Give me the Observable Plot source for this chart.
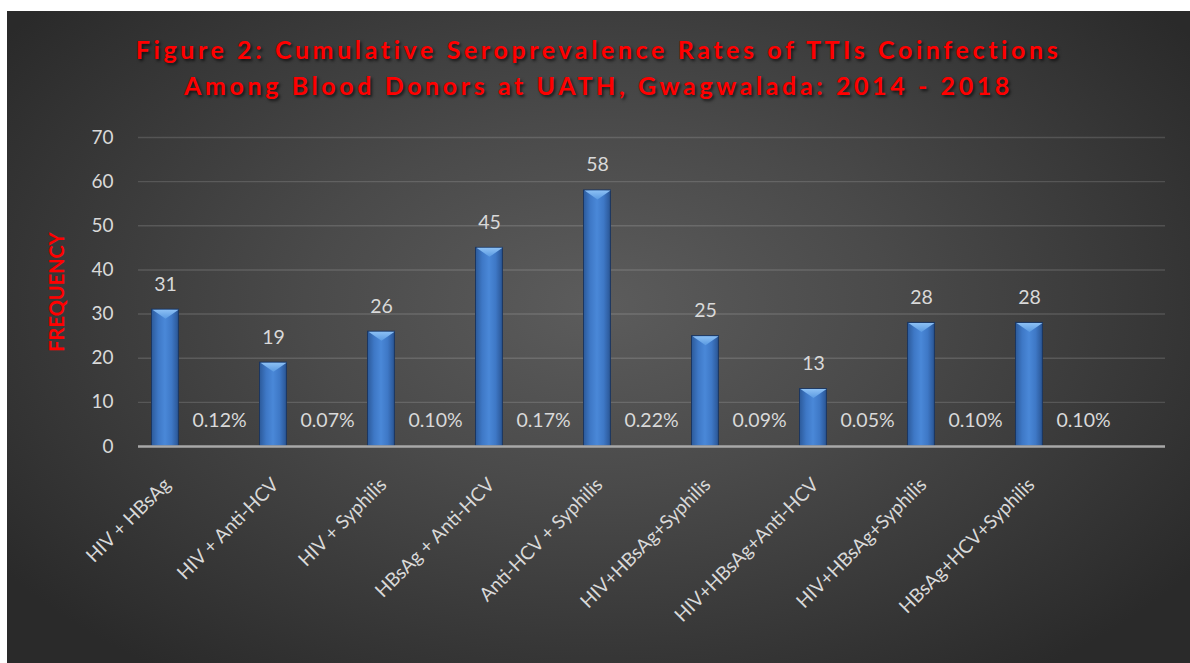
<!DOCTYPE html>
<html>
<head>
<meta charset="utf-8">
<script src="https://cdn.jsdelivr.net/npm/d3@7"></script>
<script src="https://cdn.jsdelivr.net/npm/@observablehq/plot@0.6"></script>
<style>
  html, body { margin: 0; padding: 0; background: #ffffff; }
  #card {
    position: absolute; left: 7px; top: 11px; width: 1183px; height: 652px;
    background: radial-gradient(ellipse 62% 70% at 50% 45%, #5c5c5c 0%, #4a4a4a 40%, #2a2a2a 100%);
    overflow: hidden;
  }
  #title {
    font-family: Lato, "Open Sans", sans-serif; font-weight: 700; font-size: 25px;
    letter-spacing: 3.6px; color: #ff0000; text-align: center; line-height: 36px;
    padding-top: 20px; height: 95px; box-sizing: content-box;
    text-shadow: 2px 2px 3px rgba(0,0,0,0.65);
  }
  #chart svg { display: block; }
</style>
</head>
<body>
<div id="card">
  <div id="title">Figure 2: Cumulative Seroprevalence Rates of TTIs Coinfections<br>Among Blood Donors at UATH, Gwagwalada: 2014 - 2018</div>
  <div id="chart"></div>
</div>
<script>
const categories = ["HIV + HBsAg", "HIV + Anti-HCV", "HIV + Syphilis", "HBsAg + Anti-HCV", "Anti-HCV + Syphilis", "HIV+HBsAg+Syphilis", "HIV+HBsAg+Anti-HCV", "HIV+HBsAg+Syphilis", "HBsAg+HCV+Syphilis"];
const frequency = [31, 19, 26, 45, 58, 25, 13, 28, 28];
const percentLabels = ["0.12%", "0.07%", "0.10%", "0.17%", "0.22%", "0.09%", "0.05%", "0.10%", "0.10%"];
const percentValues = [0.0012, 0.0007, 0.0010, 0.0017, 0.0022, 0.0009, 0.0005, 0.0010, 0.0010];
const yTicks = [0, 10, 20, 30, 40, 50, 60, 70];
const yLabel = "FREQUENCY";

// categories have duplicate names; use keys
const keys = categories.map((c, i) => i);
const data = keys.map(i => ({key: i, cat: categories[i], freq: frequency[i], pctLabel: percentLabels[i], pct: percentValues[i]}));

const W = 1183, H = 537;
const step = 108.1;
const bandStart = 130.3;

const bevel = {
  draw(ctx) {
    ctx.moveTo(-13, 0);
    ctx.lineTo(13, 0);
    ctx.lineTo(0, 9);
    ctx.closePath();
  }
};

const font = "Lato, 'Open Sans', sans-serif";

const plot = Plot.plot({
  width: W,
  height: H,
  marginLeft: 131,
  marginRight: 25,
  marginTop: 11,
  marginBottom: 217,
  style: {background: "transparent", color: "#d9d9d9", fontFamily: font, fontSize: "19px"},
  x: {type: "band", domain: keys, range: [bandStart, bandStart + step * keys.length], padding: 0, axis: null},
  y: {domain: [0, 70], axis: null},
  marks: [
    Plot.gridY(yTicks.filter(t => t > 0), {stroke: "#ffffff", strokeOpacity: 0.14, strokeWidth: 1.4}),
    Plot.axisY(yTicks, {tickSize: 0, tickPadding: 25, fontSize: 19, fill: "#d9d9d9", label: null}),
    Plot.barY(data, {x: "key", y: "freq", fill: "url(#barGrad)", stroke: "#1b3660", strokeWidth: 1,
      insetLeft: 13.5, insetRight: step - 40.5}),
    Plot.dot(data, {x: "key", y: "freq", dx: -27, symbol: bevel, r: 5, fill: "url(#bevelGrad)", stroke: "none"}),
    Plot.ruleY([0], {stroke: "#a8a8a8", strokeWidth: 2.5}),
    Plot.text(data, {x: "key", y: "freq", text: d => String(d.freq), dx: -27, dy: -19, lineAnchor: "bottom", fill: "#d9d9d9", fontSize: 19.5}),
    Plot.text(data, {x: "key", y: "pct", text: "pctLabel", dx: 27, dy: -19, lineAnchor: "bottom", fill: "#d9d9d9", fontSize: 19.5}),
    Plot.text(data, {x: "key", frameAnchor: "bottom", text: "cat", rotate: -45, textAnchor: "end", lineAnchor: "middle", dx: -25, dy: 35, fill: "#d9d9d9", fontSize: 19}),
    Plot.text([yLabel], {frameAnchor: "left", text: d => d, rotate: -90, textAnchor: "middle", lineAnchor: "middle", dx: -81, fill: "#ff0000", fontWeight: "bold", fontSize: 20})
  ]
});

const ns = "http://www.w3.org/2000/svg";
const defs = document.createElementNS(ns, "defs");
defs.innerHTML = `
  <linearGradient id="barGrad" x1="0" x2="1" y1="0" y2="0">
    <stop offset="0" stop-color="#2c5a9a"/>
    <stop offset="0.25" stop-color="#3e78c6"/>
    <stop offset="0.5" stop-color="#4a88d8"/>
    <stop offset="0.75" stop-color="#3e78c6"/>
    <stop offset="1" stop-color="#2a5594"/>
  </linearGradient>
  <linearGradient id="bevelGrad" x1="0" x2="0" y1="0" y2="1">
    <stop offset="0" stop-color="#8cc0f4"/>
    <stop offset="1" stop-color="#5a9ae2"/>
  </linearGradient>`;
plot.insertBefore(defs, plot.firstChild);
document.getElementById("chart").appendChild(plot);
</script>
</body>
</html>
